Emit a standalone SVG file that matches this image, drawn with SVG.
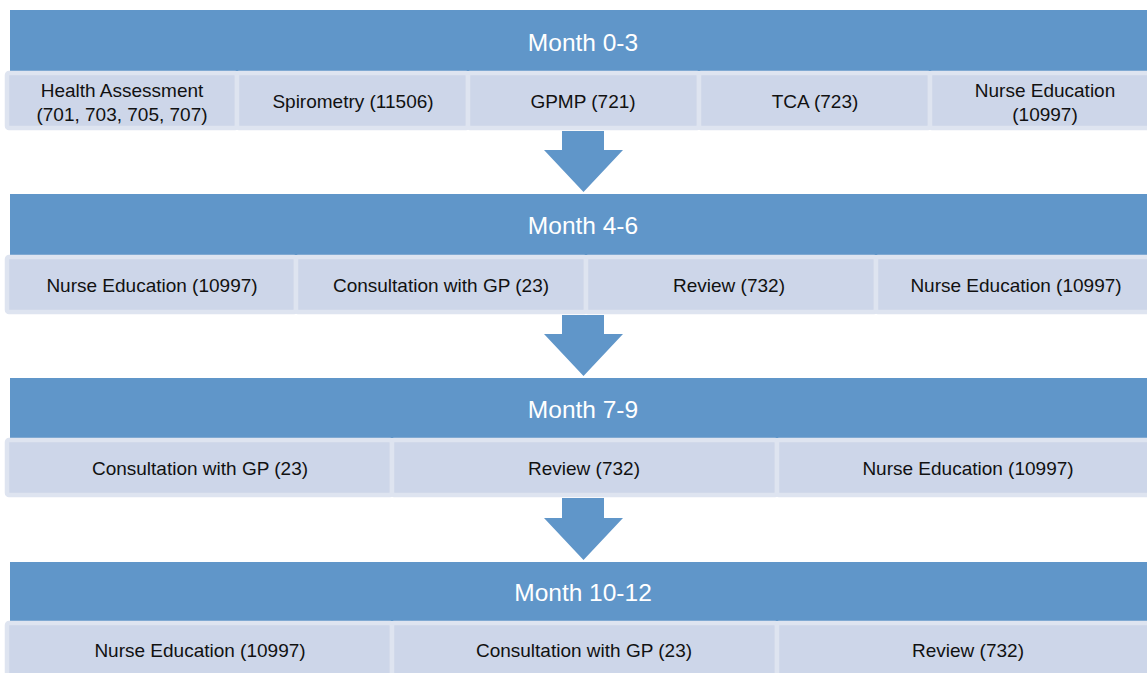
<svg xmlns="http://www.w3.org/2000/svg" width="1147" height="673" viewBox="0 0 1147 673">
<style>
.hdr{fill:#6096C9}
.hdr-t{fill:#ffffff;font-family:"Liberation Sans",Arial,sans-serif;font-size:24.5px;text-anchor:middle;dominant-baseline:central}
.box{fill:#CDD6E9;stroke:#DEE4F0;stroke-width:4.5}
.box-t{fill:#111111;font-family:"Liberation Sans",Arial,sans-serif;font-size:19px;text-anchor:middle;dominant-baseline:central}
.arrow{fill:#6096C9}
</style>
<rect width="1147" height="673" fill="#ffffff"/>

<g id="row1">
  <g id="h1"><rect class="hdr" x="10" y="10" width="1150" height="61"/><text class="hdr-t" x="583" y="42">Month 0-3</text></g>
  <g id="n1a"><rect class="box" x="7" y="73" width="230" height="55" rx="2"/><text class="box-t" x="122" y="90">Health Assessment</text><text class="box-t" x="122" y="114">(701, 703, 705, 707)</text></g>
  <g id="n1b"><rect class="box" x="237" y="73" width="231" height="55" rx="2"/><text class="box-t" x="353" y="101">Spirometry (11506)</text></g>
  <g id="n1c"><rect class="box" x="468" y="73" width="231" height="55" rx="2"/><text class="box-t" x="583" y="101">GPMP (721)</text></g>
  <g id="n1d"><rect class="box" x="699" y="73" width="231" height="55" rx="2"/><text class="box-t" x="815" y="101">TCA (723)</text></g>
  <g id="n1e"><rect class="box" x="930" y="73" width="231" height="55" rx="2"/><text class="box-t" x="1045" y="90">Nurse Education</text><text class="box-t" x="1045" y="114">(10997)</text></g>
</g>

<g id="row2">
  <g id="h2"><rect class="hdr" x="10" y="194" width="1150" height="61"/><text class="hdr-t" x="583" y="225">Month 4-6</text></g>
  <g id="n2a"><rect class="box" x="7" y="257" width="289" height="55" rx="2"/><text class="box-t" x="152" y="285">Nurse Education (10997)</text></g>
  <g id="n2b"><rect class="box" x="296" y="257" width="290" height="55" rx="2"/><text class="box-t" x="441" y="285">Consultation with GP (23)</text></g>
  <g id="n2c"><rect class="box" x="586" y="257" width="290" height="55" rx="2"/><text class="box-t" x="729" y="285">Review (732)</text></g>
  <g id="n2d"><rect class="box" x="876" y="257" width="290" height="55" rx="2"/><text class="box-t" x="1016" y="285">Nurse Education (10997)</text></g>
</g>

<g id="row3">
  <g id="h3"><rect class="hdr" x="10" y="378" width="1150" height="60"/><text class="hdr-t" x="583" y="409">Month 7-9</text></g>
  <g id="n3a"><rect class="box" x="7" y="440" width="385" height="55" rx="2"/><text class="box-t" x="200" y="468">Consultation with GP (23)</text></g>
  <g id="n3b"><rect class="box" x="392" y="440" width="385" height="55" rx="2"/><text class="box-t" x="584" y="468">Review (732)</text></g>
  <g id="n3c"><rect class="box" x="777" y="440" width="385" height="55" rx="2"/><text class="box-t" x="968" y="468">Nurse Education (10997)</text></g>
</g>

<g id="row4">
  <g id="h4"><rect class="hdr" x="10" y="562" width="1150" height="59"/><text class="hdr-t" x="583" y="592">Month 10-12</text></g>
  <g id="n4a"><rect class="box" x="7" y="623" width="385" height="60" rx="2"/><text class="box-t" x="200" y="650">Nurse Education (10997)</text></g>
  <g id="n4b"><rect class="box" x="392" y="623" width="385" height="60" rx="2"/><text class="box-t" x="584" y="650">Consultation with GP (23)</text></g>
  <g id="n4c"><rect class="box" x="777" y="623" width="385" height="60" rx="2"/><text class="box-t" x="968" y="650">Review (732)</text></g>
</g>

<g id="connectors">
  <polygon class="arrow" points="562,131 604,131 604,150 623,150 583.5,192 544,150 562,150"/>
  <polygon class="arrow" points="562,315 604,315 604,334 623,334 583.5,376 544,334 562,334"/>
  <polygon class="arrow" points="562,498 604,498 604,518 623,518 583.5,560 544,518 562,518"/>
</g>
</svg>
